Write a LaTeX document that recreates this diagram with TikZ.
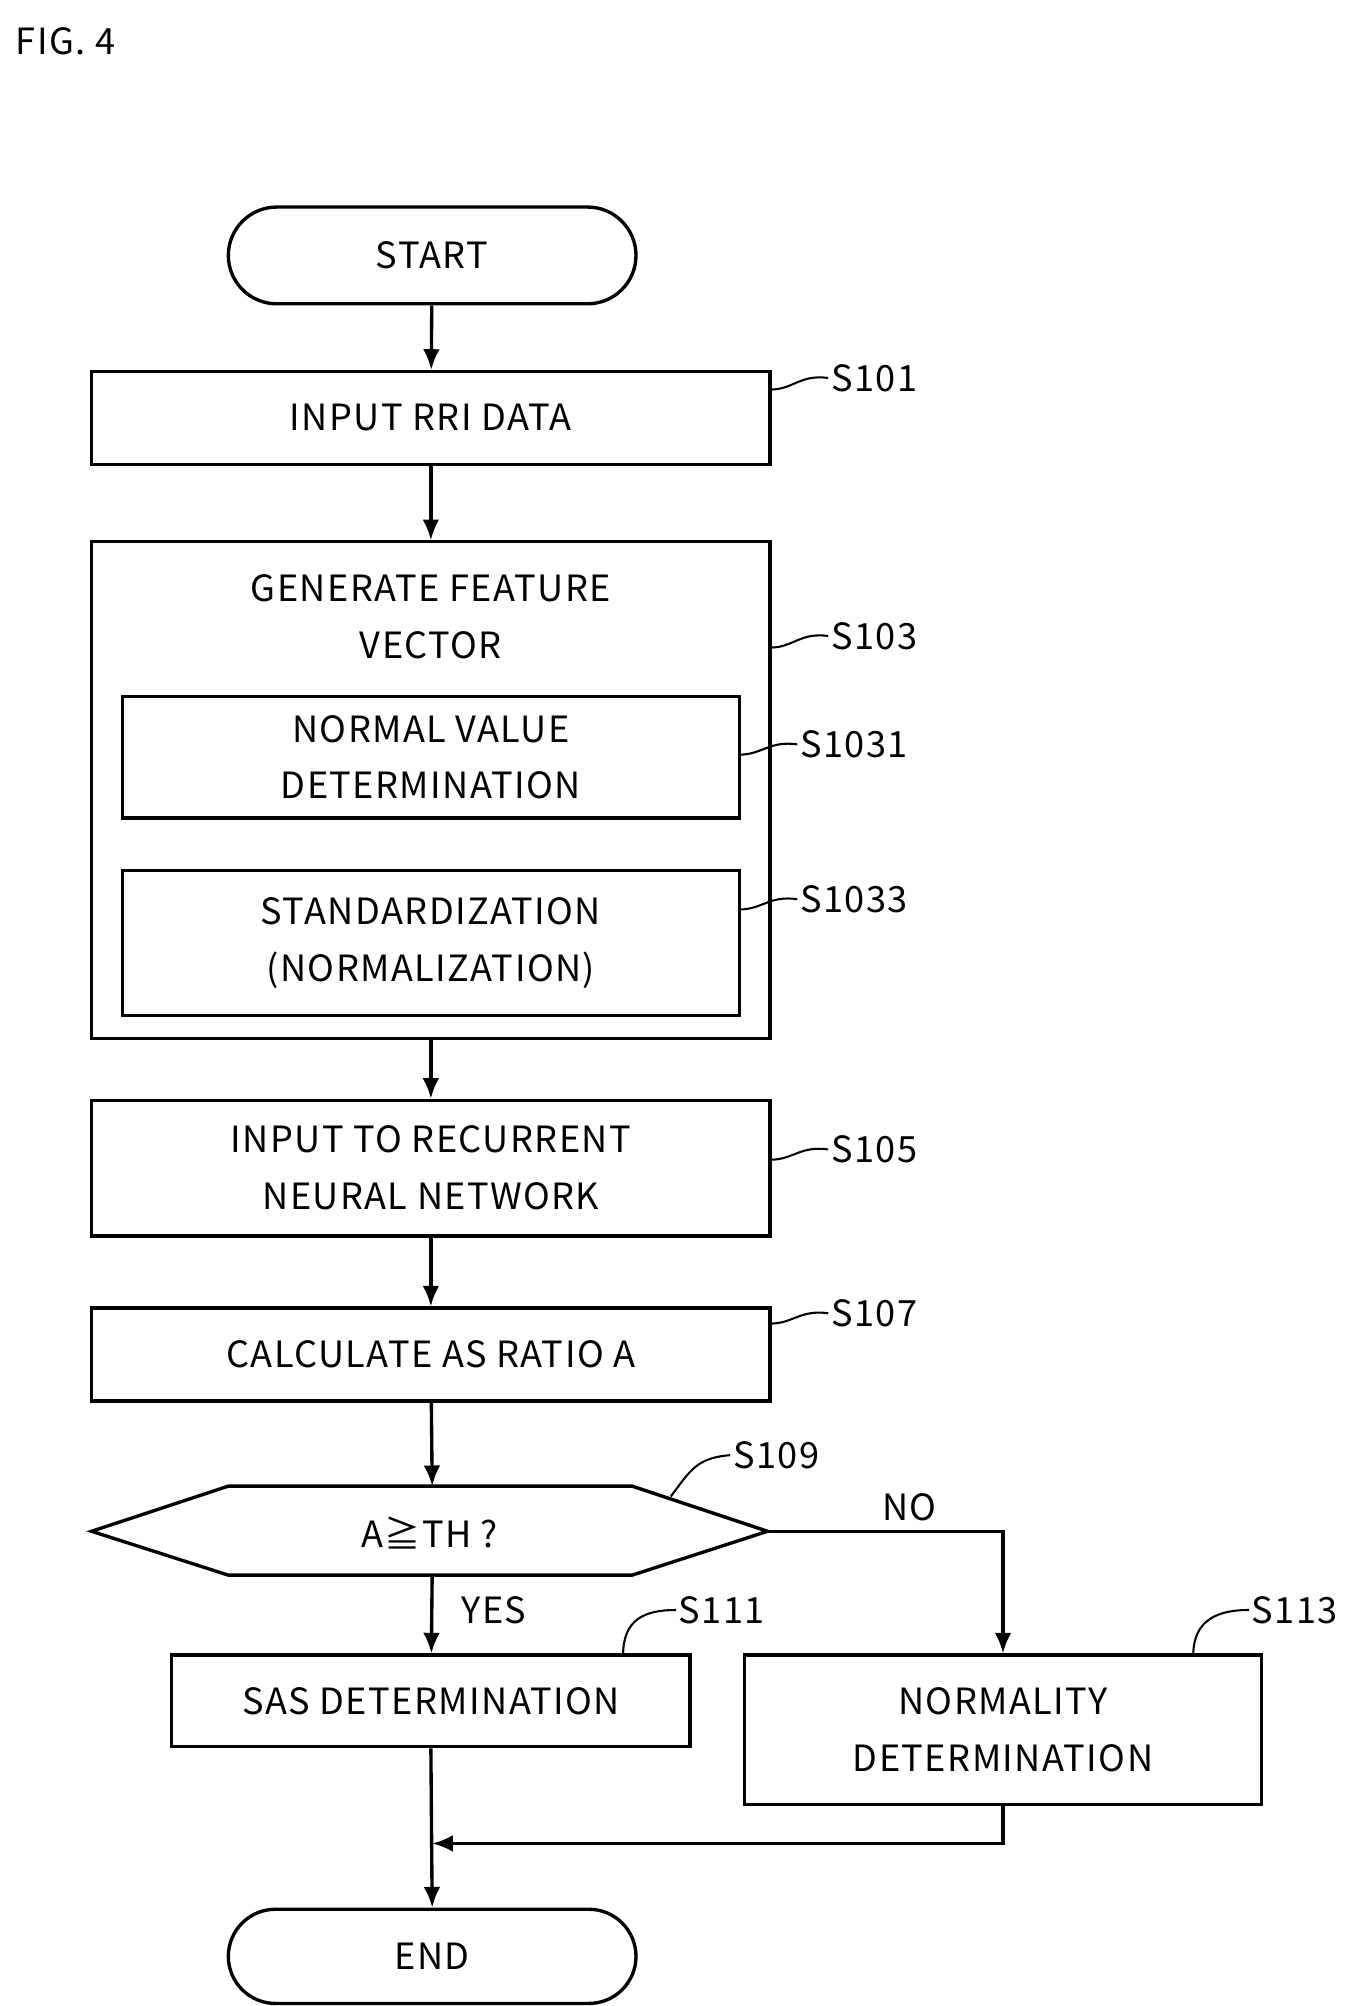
\documentclass[tikz,border=0pt]{standalone}
\usepackage{fontspec}
\setmainfont{Noto Sans CJK JP}[LetterSpace=4]
\usetikzlibrary{arrows.meta,shapes.misc}
\begin{document}
\begin{tikzpicture}[x=1pt,y=-1pt,line width=2.6pt,
  box/.style={draw,rectangle,inner sep=0pt,align=center,font=\fontsize{28}{44}\selectfont},
  lbl/.style={font=\fontsize{28}{32}\selectfont,inner sep=1pt},
  arr/.style={-{Latex[length=16pt,width=13pt]}},
  tl/.style={line width=1.6pt}]
\useasboundingbox (0,0) rectangle (1050,1555);
\node[lbl,anchor=west] (fig) at (10,32) {FIG. 4};
\node[box,rounded rectangle,minimum width=316pt,minimum height=75pt] (start) at (335,198) {START};
\node[box,minimum width=526pt,minimum height=72pt] (s101) at (334,324) {INPUT RRI DATA};
\node[box,minimum width=526pt,minimum height=385pt] (s103) at (334,612.5) {};
\node[box,draw=none] (s103t) at (334,478) {GENERATE FEATURE\\VECTOR};
\node[box,minimum width=478pt,minimum height=94pt] (s1031) at (334,587) {NORMAL VALUE\\DETERMINATION};
\node[box,minimum width=478pt,minimum height=112pt] (s1033) at (334,731) {STANDARDIZATION\\(NORMALIZATION)};
\node[box,minimum width=526pt,minimum height=105pt] (s105) at (334,905.5) {INPUT TO RECURRENT\\NEURAL NETWORK};
\node[box,minimum width=526pt,minimum height=72pt] (s107) at (334,1050) {CALCULATE AS RATIO A};
\coordinate (hl) at (71,1187); \coordinate (hr) at (595,1187);
\draw (hl) -- (177,1152) -- (490,1152) -- (hr) -- (490,1221) -- (177,1221) -- cycle;
\node[box,draw=none] (s109) at (333,1188) {A≧TH ?};
\coordinate (s109b) at (335,1221); \coordinate (s109t) at (335,1152);
\node[box,minimum width=402pt,minimum height=71pt] (s111) at (334,1318.5) {SAS DETERMINATION};
\node[box,minimum width=401pt,minimum height=116pt] (s113) at (777.5,1341) {NORMALITY\\DETERMINATION};
\node[box,rounded rectangle,minimum width=316pt,minimum height=73pt] (end) at (335,1516.5) {END};
\draw[arr] (start) -- (s101);
\draw[arr] (s101) -- (s103);
\draw[arr] (s103) -- (s105);
\draw[arr] (s105) -- (s107);
\draw[arr] (s107) -- (s109t);
\draw[arr] (s109b) -- (s111);
\draw[arr] (hr) -| (s113.north);
\coordinate (m) at (335,1429);
\draw[arr] (s113.south) |- (m);
\draw[arr] (s111.south) -- (end.north);
\node[lbl] (yes) at (383,1248) {YES};
\node[lbl] (no) at (705,1168) {NO};
\node[lbl,anchor=west] (l101) at (642,293) {S101};
\draw[tl] (597,302) .. controls (615,302) and (620,290) .. (l101.west);
\node[lbl,anchor=west] (l103) at (642,493) {S103};
\draw[tl] (597,502) .. controls (615,502) and (620,490) .. (l103.west);
\node[lbl,anchor=west] (l1031) at (618,577) {S1031};
\draw[tl] (573,585) .. controls (591,585) and (596,574) .. (l1031.west);
\node[lbl,anchor=west] (l1033) at (618,697) {S1033};
\draw[tl] (573,705) .. controls (591,705) and (596,694) .. (l1033.west);
\node[lbl,anchor=west] (l105) at (642,891) {S105};
\draw[tl] (597,899) .. controls (615,899) and (620,888) .. (l105.west);
\node[lbl,anchor=west] (l107) at (642,1018) {S107};
\draw[tl] (597,1026) .. controls (615,1026) and (620,1015) .. (l107.west);
\node[lbl,anchor=west] (l109) at (566,1128) {S109};
\draw[tl] (520,1160) .. controls (535,1140) and (540,1130) .. (l109.west);
\node[lbl,anchor=west] (l111) at (524,1248) {S111};
\draw[tl] (483,1283) .. controls (483,1255) and (500,1248) .. (l111.west);
\node[lbl,anchor=west] (l113) at (968,1248) {S113};
\draw[tl] (925,1283) .. controls (925,1255) and (945,1248) .. (l113.west);
\end{tikzpicture}
\end{document}
